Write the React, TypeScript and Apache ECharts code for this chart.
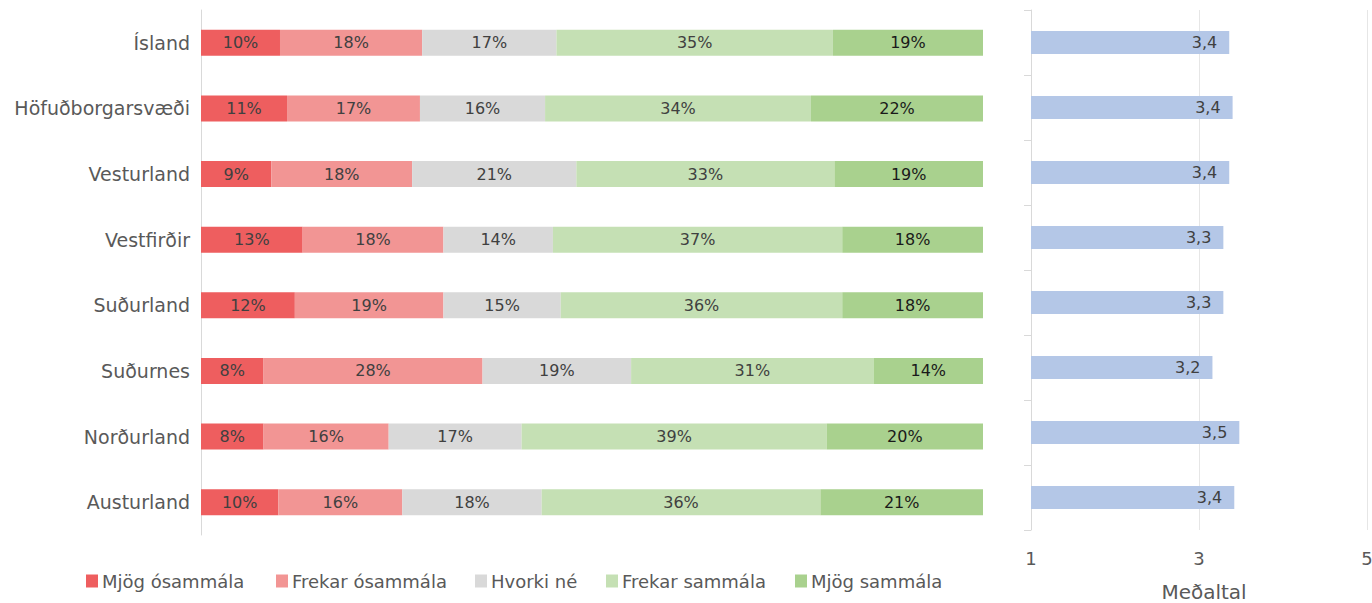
import React, { useEffect, useRef } from "react";
import * as echarts from "echarts";

const categories = [
  "Ísland",
  "Höfuðborgarsvæði",
  "Vesturland",
  "Vestfirðir",
  "Suðurland",
  "Suðurnes",
  "Norðurland",
  "Austurland",
];

const seriesNames = [
  "Mjög ósammála",
  "Frekar ósammála",
  "Hvorki né",
  "Frekar sammála",
  "Mjög sammála",
];

const mjogOsammala = [10, 11, 9, 13, 12, 8, 8, 10];
const frekarOsammala = [18, 17, 18, 18, 19, 28, 16, 16];
const hvorkiNe = [17, 16, 21, 14, 15, 19, 17, 18];
const frekarSammala = [35, 34, 33, 37, 36, 31, 39, 36];
const mjogSammala = [19, 22, 19, 18, 18, 14, 20, 21];

const medaltal = [3.36, 3.4, 3.36, 3.29, 3.29, 3.16, 3.48, 3.42];

const avgTicks = [1, 3, 5];

const colors = ["#EE5E5F", "#F29594", "#D9D9D9", "#C5E0B4", "#A9D18E"];
const labelColors = ["#404040", "#404040", "#404040", "#404040", "#1A1A1A"];

const legendLefts = [81, 271, 470, 601, 790];

const FONT = "'DejaVu Sans', 'Open Sans', sans-serif";

export default function App() {
  const ref = useRef<HTMLDivElement>(null);

  useEffect(() => {
    if (!ref.current) return;
    const chart = echarts.init(ref.current, undefined, { renderer: "svg" });

    const groups = [mjogOsammala, frekarOsammala, hvorkiNe, frekarSammala, mjogSammala];
    const rowSums = categories.map((_, i) => groups.reduce((s, g) => s + g[i], 0));

    const stackSeries = groups.map((g, k) => ({
      name: seriesNames[k],
      type: "bar",
      stack: "total",
      xAxisIndex: 0,
      yAxisIndex: 0,
      barWidth: 26,
      itemStyle: { color: colors[k] },
      data: g.map((v, i) => ({ value: (v / rowSums[i]) * 100, raw: v })),
      label: {
        show: true,
        position: "inside",
        color: labelColors[k],
        fontFamily: FONT,
        fontSize: 16,
        formatter: (p: any) => `${p.data.raw}%`,
      },
    }));

    const legends = seriesNames.map((n, k) => ({
      show: true,
      data: [n],
      left: legendLefts[k],
      top: 567,
      itemWidth: 12,
      itemHeight: 13,
      icon: "rect",
      textStyle: { color: "#595959", fontSize: 18, fontFamily: FONT, padding: [0, 0, 0, -1] },
    }));

    chart.setOption({
      animation: false,
      textStyle: { fontFamily: FONT },
      legend: legends,
      grid: [
        { left: 201, right: 389, top: 10, bottom: 68, outerBoundsMode: "none", containLabel: false },
        { left: 1031, right: 5, top: 10, bottom: 73, outerBoundsMode: "none", containLabel: false },
      ],
      xAxis: [
        {
          type: "value",
          gridIndex: 0,
          min: 0,
          max: 100,
          show: false,
        },
        {
          type: "value",
          gridIndex: 1,
          min: avgTicks[0],
          max: avgTicks[avgTicks.length - 1],
          interval: 2,
          axisLine: { show: false },
          axisTick: { show: false },
          splitLine: { show: true, lineStyle: { color: "#E6E6E6", width: 1 } },
          axisLabel: {
            color: "#595959",
            fontSize: 18,
            fontFamily: FONT,
            margin: 19,
          },
          name: "Meðaltal",
          nameLocation: "middle",
          nameGap: 52,
          nameTextStyle: { color: "#595959", fontSize: 20, fontFamily: FONT, padding: [0, 0, 0, 10] },
        },
      ],
      yAxis: [
        {
          type: "category",
          gridIndex: 0,
          data: categories,
          inverse: true,
          axisLine: { show: true, lineStyle: { color: "#D9D9D9" } },
          axisTick: { show: false },
          axisLabel: { color: "#595959", fontSize: 19, fontFamily: FONT, margin: 11 },
        },
        {
          type: "category",
          gridIndex: 1,
          data: categories,
          inverse: true,
          axisLine: { show: true, lineStyle: { color: "#D9D9D9" } },
          axisTick: { show: true, length: 7, lineStyle: { color: "#D9D9D9" } },
          axisLabel: { show: false },
        },
      ],
      series: [
        ...stackSeries,
        {
          name: "Meðaltal",
          type: "bar",
          xAxisIndex: 1,
          yAxisIndex: 1,
          barWidth: 23,
          itemStyle: { color: "#B4C7E7" },
          data: medaltal,
          label: {
            show: true,
            position: "insideRight",
            distance: 12,
            color: "#404040",
            fontSize: 16,
            fontFamily: FONT,
            formatter: (p: any) => p.value.toFixed(1).replace(".", ","),
          },
        },
      ],
    });

    return () => chart.dispose();
  }, []);

  return <div ref={ref} style={{ width: 1372, height: 603, position: "absolute", left: 0, top: 0 }} />;
}
